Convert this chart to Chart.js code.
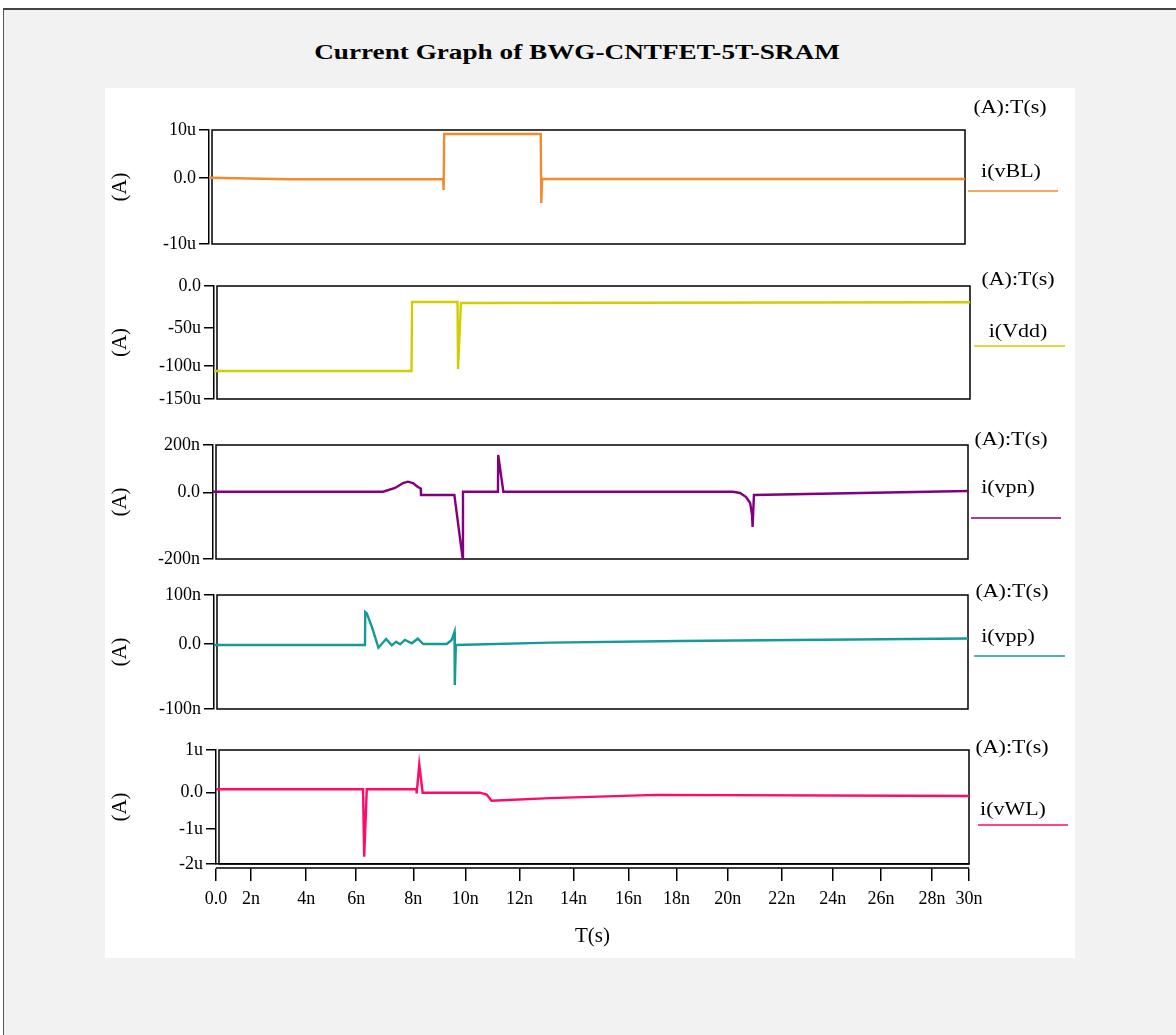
<!DOCTYPE html>
<html>
<head>
<meta charset="utf-8">
<script src="https://cdn.jsdelivr.net/npm/chart.js@4.4.1/dist/chart.umd.min.js"></script>
<style>
  html, body { margin: 0; padding: 0; background: #fff; }
  body { width: 1176px; height: 1035px; position: relative; overflow: hidden; font-family: "Liberation Serif", "Times New Roman", serif; }
  #frame { position: absolute; left: 3px; top: 8px; width: 1200px; height: 1100px; background: #f2f2f2; border-left: 1px solid #555; border-top: 2px solid #444; }
  #sheet { position: absolute; left: 105px; top: 88px; width: 970px; height: 870px; background: #fff; }
  #title { position: absolute; left: 0; top: 38px; width: 1154px; text-align: center; font: bold 20px "Liberation Serif", serif; line-height: 28px; transform: scaleX(1.36); color: #000; }
  canvas.panel { position: absolute; left: 105px; }
</style>
</head>
<body>
<div id="frame"></div>
<div id="sheet"></div>
<div id="title">Current Graph of BWG-CNTFET-5T-SRAM</div>
<canvas id="p1" class="panel"></canvas>
<canvas id="p2" class="panel"></canvas>
<canvas id="p3" class="panel"></canvas>
<canvas id="p4" class="panel"></canvas>
<canvas id="p5" class="panel"></canvas>
<script>
// ---- eixo do tempo (ns) ----
const T_TICKS = [0, 2, 4, 6, 8, 10, 12, 14, 16, 18, 20, 22, 24, 26, 28, 30];
const T_TICK_LABELS = ['0.0', '2n', '4n', '6n', '8n', '10n', '12n', '14n', '16n', '18n', '20n', '22n', '24n', '26n', '28n', '30n'];

// ---- i(vBL) em uA ----
const VBL_T = [0, 1.5, 3.6, 9.38, 9.40, 9.42, 13.00, 13.02, 13.05, 30];
const VBL_I = [0.06, -0.05, -0.2, -0.2, -1.8, 9.17, 9.17, -3.8, -0.15, -0.15];
const VBL_TICKS = [-10, 0, 10];
const VBL_TICK_LABELS = ['-10u', '0.0', '10u'];

// ---- i(Vdd) em uA ----
const VDD_T = [0, 7.98, 8.0, 9.74, 9.76, 9.87, 30];
const VDD_I = [-107.6, -107.6, -19.0, -19.0, -104.5, -20.2, -19.4];
const VDD_TICKS = [-150, -100, -50, 0];
const VDD_TICK_LABELS = ['-150u', '-100u', '-50u', '0.0'];

// ---- i(vpn) em nA ----
const VPN_T = [0, 7.03, 7.45, 7.73, 7.90, 8.08, 8.27, 8.38, 8.39, 9.67, 9.99, 10.0, 11.29, 11.30, 11.49, 20.26, 20.52, 20.74, 20.89, 20.96, 20.98, 21.03, 30];
const VPN_I = [4.2, 4.2, 19.7, 40.7, 46.1, 40.7, 23.9, 17.6, -6.9, -6.9, -200, 4.2, 4.2, 158, 4.2, 4.2, -0.9, -13, -31, -67, -103, -6.9, 7.1];
const VPN_TICKS = [-200, 0, 200];
const VPN_TICK_LABELS = ['-200n', '0.0', '200n'];

// ---- i(vpp) em nA ----
const VPP_T = [0, 6.37, 6.38, 6.43, 6.61, 6.84, 7.11, 7.31, 7.46, 7.60, 7.77, 8.01, 8.24, 8.45, 9.35, 9.54, 9.65, 9.66, 9.70, 13.19, 18.19, 30];
const VPP_I = [-1.5, -1.5, 65.3, 63, 35.3, -5.7, 10.2, -2, 4.7, -0.5, 8.2, 1.4, 10.8, 0, 0, 8.2, 25.1, -63, -1.5, 2.7, 6.1, 11.2];
const VPP_TICKS = [-100, 0, 100];
const VPP_TICK_LABELS = ['-100n', '0.0', '100n'];

// ---- i(vWL) em uA ----
const VWL_T = [0, 6.24, 6.28, 6.37, 8.12, 8.13, 8.23, 8.36, 10.54, 10.79, 10.97, 13.13, 17.13, 30];
const VWL_I = [0.08, 0.08, -1.79, 0.08, 0.08, -0.02, 0.66, 0.0, 0.0, -0.05, -0.22, -0.15, -0.06, -0.09];
const VWL_TICKS = [-2, -1, 0, 1];
const VWL_TICK_LABELS = ['-2u', '-1u', '0.0', '1u'];

// o desenho original tem escalas irregulares: posição relativa de cada tick no eixo
const T_TICK_FRAC = [0, .0465, .1197, .1862, .2620, .3311, .4029, .4747, .5479, .6117, .6795, .7513, .8191, .8830, .9508, 1];

const SHEET_LEFT = 105, SHEET_RIGHT = 1075, SHEET_BOTTOM = 958;

const PAINEIS = [
    { id: 'p1', nome: 'i(vBL)', cor: '#f38a30', t: VBL_T, i: VBL_I, ticks: VBL_TICKS, labels: VBL_TICK_LABELS, frac: [0, .579, 1],
      top: 130, bottom: 244, axisX: 209, right: 965, head: [1010, 108], leg: [1011, 172], key: [968, 1058, 191] },
    { id: 'p2', nome: 'i(Vdd)', cor: '#d2cd00', t: VDD_T, i: VDD_I, ticks: VDD_TICKS, labels: VDD_TICK_LABELS, frac: [0, .292, .628, 1],
      top: 286, bottom: 399, axisX: 214, right: 970, head: [1018, 280], leg: [1018, 332], key: [974, 1065, 346] },
    { id: 'p3', nome: 'i(vpn)', cor: '#800080', t: VPN_T, i: VPN_I, ticks: VPN_TICKS, labels: VPN_TICK_LABELS, frac: [0, .5816, 1],
      top: 445, bottom: 559, axisX: 213, right: 968, head: [1011, 440], leg: [1008, 488], key: [971, 1061, 518] },
    { id: 'p4', nome: 'i(vpp)', cor: '#17999a', t: VPP_T, i: VPP_I, ticks: VPP_TICKS, labels: VPP_TICK_LABELS, frac: [0, .5702, 1],
      top: 595, bottom: 709, axisX: 214, right: 968, head: [1012, 592], leg: [1008, 637], key: [974, 1065, 656] },
    { id: 'p5', nome: 'i(vWL)', cor: '#ff0a68', t: VWL_T, i: VWL_I, ticks: VWL_TICKS, labels: VWL_TICK_LABELS, frac: [0, .307, .6254, 1],
      top: 750, bottom: 864, axisX: 216, right: 969, head: [1012, 748], leg: [1013, 810], key: [978, 1068, 825], ultimo: true }
];

// ---- escala linear por trechos (segue os ticks do desenho) ----
const BENDS = {};

function bendDecimal(v, vals, fr) {
    let k = 1;
    while (k < vals.length - 1 && v > vals[k]) k++;
    return fr[k - 1] + (v - vals[k - 1]) / (vals[k] - vals[k - 1]) * (fr[k] - fr[k - 1]);
}

class BentScale extends Chart.LinearScale {
    getPixelForValue(value) {
        if (value === null || value === undefined || isNaN(value)) return NaN;
        const b = BENDS[this.chart.canvas.id][this.axis];
        return this.getPixelForDecimal(bendDecimal(value, b.v, b.f));
    }
    getValueForPixel(pixel) {
        const b = BENDS[this.chart.canvas.id][this.axis];
        const d = this.getDecimalForPixel(pixel);
        return bendDecimal(d, b.f, b.v);
    }
}
BentScale.id = 'bent';
BentScale.defaults = Chart.LinearScale.defaults;
Chart.register(BentScale);

Chart.defaults.font.family = '"Liberation Serif", "Times New Roman", serif';
Chart.defaults.color = '#000';

function textoEsticado(ctx, s, x, y) {
    ctx.save();
    ctx.translate(x, y);
    ctx.scale(1.22, 1);
    ctx.textAlign = 'center';
    ctx.textBaseline = 'middle';
    ctx.fillText(s, 0, 0);
    ctx.restore();
}

function criarPainel(p) {
    const canvas = document.getElementById(p.id);
    const canvasTop = p.top - 40;
    const height = p.ultimo ? SHEET_BOTTOM - canvasTop : (p.bottom - p.top) + 70;
    canvas.width = SHEET_RIGHT - SHEET_LEFT;
    canvas.height = height;
    canvas.style.top = canvasTop + 'px';

    BENDS[p.id] = { x: { v: T_TICKS, f: T_TICK_FRAC }, y: { v: p.ticks, f: p.frac } };

    const decor = {
        id: 'decor_' + p.id,
        beforeDatasetsDraw(chart) {
            const a = chart.chartArea, ctx = chart.ctx;
            ctx.save();
            ctx.strokeStyle = '#000';
            ctx.lineWidth = 1.5;
            ctx.strokeRect(a.left + 3, a.top, a.right - a.left - 3, a.bottom - a.top);
            if (p.ultimo) {
                ctx.beginPath();
                ctx.moveTo(a.left, a.bottom + 4);
                ctx.lineTo(a.right, a.bottom + 4);
                ctx.stroke();
            }
            ctx.restore();
        },
        afterDraw(chart) {
            const ctx = chart.ctx;
            ctx.save();
            ctx.fillStyle = '#000';
            ctx.font = '18px "Liberation Serif", serif';
            textoEsticado(ctx, '(A):T(s)', p.head[0] - SHEET_LEFT, p.head[1] - canvasTop);
            textoEsticado(ctx, p.nome, p.leg[0] - SHEET_LEFT, p.leg[1] - canvasTop);
            ctx.strokeStyle = p.cor;
            ctx.lineWidth = 1.5;
            ctx.beginPath();
            ctx.moveTo(p.key[0] - SHEET_LEFT, p.key[2] - canvasTop);
            ctx.lineTo(p.key[1] - SHEET_LEFT, p.key[2] - canvasTop);
            ctx.stroke();
            ctx.restore();
        }
    };

    return new Chart(canvas, {
        type: 'line',
        data: {
            datasets: [{
                data: p.t.map((t, k) => ({ x: t, y: p.i[k] })),
                borderColor: p.cor,
                borderWidth: 2.4,
                pointRadius: 0,
                tension: 0,
                fill: false
            }]
        },
        options: {
            responsive: false,
            maintainAspectRatio: false,
            devicePixelRatio: 1,
            animation: false,
            events: [],
            layout: { padding: { top: 40, bottom: p.ultimo ? 0 : 30, left: 0, right: SHEET_RIGHT - p.right } },
            plugins: { legend: { display: false }, tooltip: { enabled: false } },
            scales: {
                x: {
                    type: 'bent',
                    min: 0,
                    max: 30,
                    display: !!p.ultimo,
                    afterBuildTicks: s => { s.ticks = T_TICKS.map(v => ({ value: v })); },
                    afterFit: s => { if (p.ultimo) s.height = SHEET_BOTTOM - p.bottom; },
                    ticks: { callback: (v, k) => T_TICK_LABELS[k], autoSkip: false, maxRotation: 0, font: { size: 18 }, color: '#000', padding: 7 },
                    grid: { drawOnChartArea: false, tickLength: 17, tickBorderDash: [0, 4, 13, 0], color: '#000', lineWidth: 1.5 },
                    border: { display: true, color: '#000', width: 1.5 },
                    title: { display: true, text: 'T(s)', font: { size: 21 }, color: '#000', padding: { top: 0, bottom: 9 } }
                },
                y: {
                    type: 'bent',
                    min: p.ticks[0],
                    max: p.ticks[p.ticks.length - 1],
                    afterBuildTicks: s => { s.ticks = p.ticks.map(v => ({ value: v })); },
                    afterFit: s => { s.width = p.axisX - SHEET_LEFT; },
                    ticks: { callback: (v, k) => p.labels[k], autoSkip: false, font: { size: 18 }, color: '#000', padding: 3 },
                    grid: { drawOnChartArea: false, tickLength: 10, color: '#000', lineWidth: 1.5 },
                    border: { display: true, color: '#000', width: 1.5 },
                    title: { display: true, text: '(A)', font: { size: 21 }, color: '#000', padding: { top: 3, bottom: 0 } }
                }
            }
        },
        plugins: [decor]
    });
}

PAINEIS.forEach(criarPainel);
</script>
</body>
</html>
